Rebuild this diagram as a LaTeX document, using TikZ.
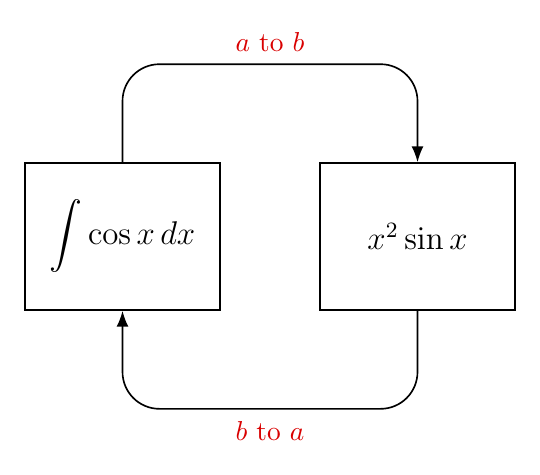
\documentclass[tikz,border=0pt]{standalone}
\usepackage{amsmath}
\usetikzlibrary{arrows.meta}

\begin{document}
\begin{tikzpicture}[x=0.01283cm,y=-0.01283cm,
    fbox/.style={draw,line width=0.6pt,minimum width=2.5cm,minimum height=1.886cm,font=\large},
    link/.style={line width=0.6pt,rounded corners=13.5pt,-{Latex[length=5.8pt,width=4.4pt]}},
    lbl/.style={text=red!85!black}]
      \useasboundingbox (0,0) rectangle (540,474);
      \node[fbox] (intbox) at (122.5,236.5) {$\displaystyle\int\cos x\,dx$};
      \node[fbox] (sinbox) at (417.5,236.5) {$x^2\sin x$};
      \draw[link] (intbox.north) -- ++(0,-98) -| node[lbl,pos=.25,above=1pt]{$a$ to $b$} (sinbox.north);
      \draw[link] (sinbox.south) -- ++(0,98) -| node[lbl,pos=.25,below=1pt]{$b$ to $a$} (intbox.south);
\end{tikzpicture}
\end{document}
